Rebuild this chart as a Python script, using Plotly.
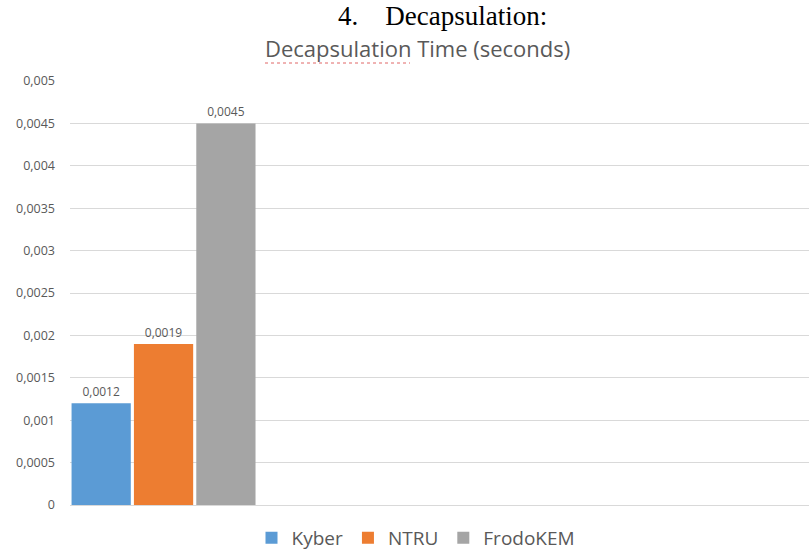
import plotly.graph_objects as go

SERIES = ["Kyber", "NTRU", "FrodoKEM"]
VALORES = [0.0012, 0.0019, 0.0045]
COLORES = ["#5b9bd5", "#ed7d31", "#a5a5a5"]

TITULO_DOC = "4.    Decapsulation:"
TITULO = "Decapsulation Time (seconds)"

GRIS = "#595959"

# área del gráfico en píxeles
IZQ, DER, ARRIBA, ABAJO = 70, 809, 81, 505
ANCHO = DER - IZQ
ALTO = ABAJO - ARRIBA


def px_x(x):
    return (x - IZQ) / ANCHO


def px_y(y):
    return (ABAJO - y) / ALTO


fig = go.Figure()
for nombre, valor, color in zip(SERIES, VALORES, COLORES):
    fig.add_trace(go.Bar(
        name=nombre,
        x=[0],
        y=[valor],
        marker=dict(color=color, line=dict(width=0)),
        text=[str(valor).replace(".", ",")],
        textposition="outside",
        cliponaxis=False,
        textfont=dict(family="Open Sans", size=12, color=GRIS),
        hoverinfo="skip"))

fig.update_layout(
    width=809,
    height=550,
    barmode="group",
    bargap=0,
    bargroupgap=0.05,
    separators=",.",
    plot_bgcolor="white",
    paper_bgcolor="white",
    margin=dict(t=ARRIBA, b=550 - ABAJO, l=IZQ, r=809 - DER, autoexpand=False),
    showlegend=True,
    legend=dict(
        orientation="h",
        x=px_x(416), xanchor="center",
        y=px_y(538), yanchor="middle",
        font=dict(family="Open Sans", size=19, color=GRIS),
        itemwidth=30,
        traceorder="normal"),
    font=dict(family="Open Sans", color=GRIS))

fig.update_xaxes(
    range=[-0.5, 3.45],
    showticklabels=False,
    showgrid=False,
    zeroline=False,
    showline=True,
    linecolor="#d9d9d9",
    linewidth=1,
    ticks="")

fig.update_yaxes(
    range=[0, 0.005],
    dtick=0.0005,
    tick0=0,
    showgrid=True,
    gridcolor="#d9d9d9",
    gridwidth=1,
    zeroline=False,
    showline=False,
    ticks="",
    ticklabelstandoff=14,
    tickfont=dict(family="Open Sans", size=12.5, color=GRIS))

fig.add_annotation(
    text=TITULO_DOC, xref="paper", yref="paper",
    x=px_x(442), y=px_y(16), yanchor="middle",
    showarrow=False,
    font=dict(family="Liberation Serif", size=27, color="black"))

fig.add_annotation(
    text=TITULO, xref="paper", yref="paper",
    x=px_x(417), y=px_y(48), yanchor="middle",
    showarrow=False,
    font=dict(family="Open Sans", size=22, color=GRIS))

# subrayado rojo del corrector ortográfico
fig.add_shape(
    type="line", xref="paper", yref="paper",
    x0=px_x(265), x1=px_x(410), y0=px_y(63), y1=px_y(63),
    line=dict(color="#e06666", width=1, dash="dot"))

fig.write_html(
    "out.html",
    config={"displayModeBar": False},
    post_script="document.body.style.margin='0';")
